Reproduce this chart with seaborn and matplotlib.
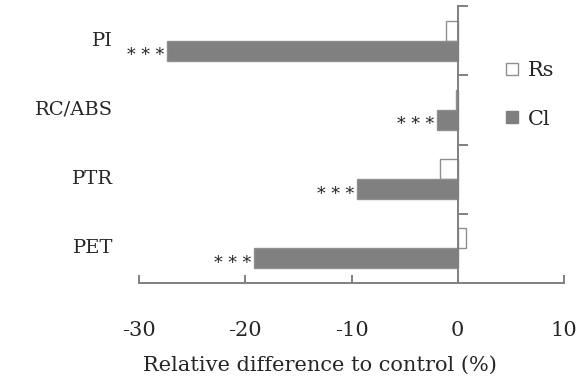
import matplotlib
matplotlib.use("Agg")
import matplotlib.pyplot as plt
import seaborn as sns
import pandas as pd
from matplotlib.lines import Line2D

categories = ["PI", "RC/ABS", "PTR", "PET"]
rs_values = [-1.1, -0.2, -1.7, 0.8]
cl_values = [-27.4, -2.0, -9.5, -19.2]
cl_sig = ["***", "***", "***", "***"]
x_ticks = [-30, -20, -10, 0, 10]
series = ["Rs", "Cl"]

sns.set_style("white")
plt.rcParams["font.family"] = ["DejaVu Serif"]
plt.rcParams["axes.unicode_minus"] = False

df = pd.DataFrame({
    "param": categories * 2,
    "value": rs_values + cl_values,
    "series": ["Rs"] * 4 + ["Cl"] * 4,
})

fig = plt.figure(figsize=(5.78, 3.87), dpi=100)
ax = fig.add_axes([0.2405, 0.2687, 0.7353, 0.7158])

sns.barplot(data=df, y="param", x="value", hue="series", order=categories,
            hue_order=series, palette={"Rs": "white", "Cl": "#808080"},
            orient="h", width=0.58, gap=0, edgecolor="#8f8f8f", linewidth=1,
            ax=ax, legend=False)

ax.set_xlim(-30, 10)
ax.set_ylim(len(categories) - 0.5, -0.5)

axis_col = "#808080"
for s in ["top", "right"]:
    ax.spines[s].set_visible(False)
ax.spines["left"].set_position(("data", 0))
for s in ["left", "bottom"]:
    ax.spines[s].set_color(axis_col)
    ax.spines[s].set_linewidth(1.4)

ax.set_xticks(x_ticks)
ax.set_xticklabels([str(t) for t in x_ticks], fontsize=15)
ax.tick_params(axis="x", direction="in", length=6, width=1.4, color=axis_col,
               pad=27, bottom=True)

bounds = [i - 0.5 for i in range(len(categories))]
ax.set_yticks(bounds)
ax.set_yticklabels([])
ax.tick_params(axis="y", direction="in", length=7, width=1.4, color=axis_col, left=True)
ax.set_ylabel("")

for i, c in enumerate(categories):
    ax.text(-0.061, i, c, transform=ax.get_yaxis_transform(), ha="right",
            va="center", fontsize=14)

# significance marks next to Cl bars
for i, (v, s) in enumerate(zip(cl_values, cl_sig)):
    ax.text(v - 0.2, i + 0.215, " ".join(s), ha="right", va="center", fontsize=12.5)

ax.set_xlabel("Relative difference to control (%)", fontsize=15)
ax.xaxis.set_label_coords(0.426, -0.262)

handles = [
    Line2D([], [], marker="s", linestyle="none", markersize=8,
           markerfacecolor="white", markeredgecolor="#8f8f8f"),
    Line2D([], [], marker="s", linestyle="none", markersize=8,
           markerfacecolor="#808080", markeredgecolor="#808080"),
]
ax.legend(handles, series, loc="upper left", bbox_to_anchor=(0.852, 0.80),
          frameon=False, fontsize=15, handlelength=1.0, handletextpad=0.3,
          labelspacing=1.4, borderpad=0, borderaxespad=0)

fig.savefig("out.png", dpi=100)
